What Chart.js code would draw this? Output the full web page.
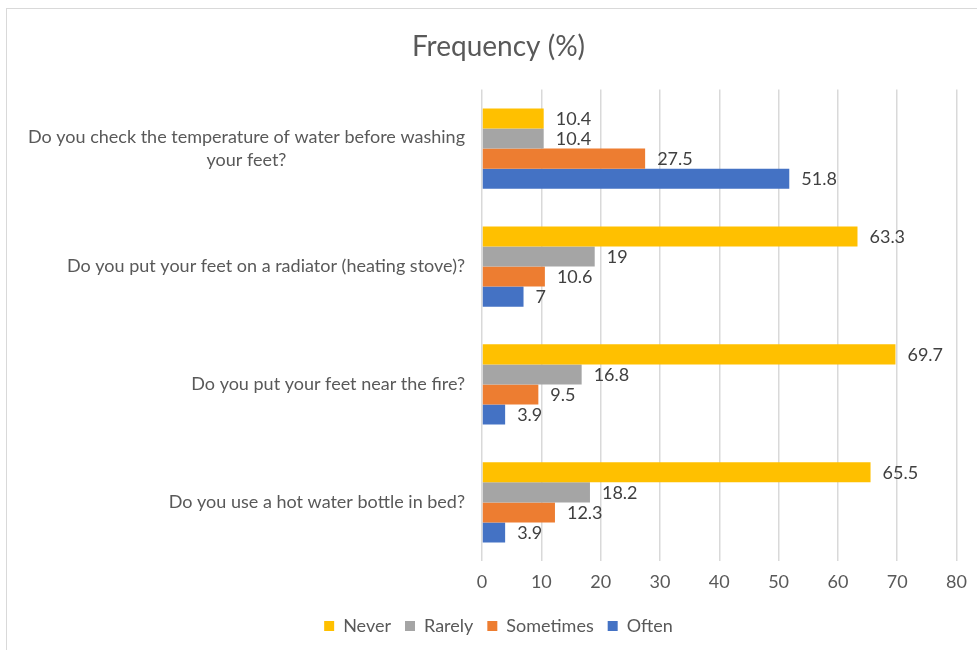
<!DOCTYPE html>
<html lang="en">
<head>
<meta charset="UTF-8">
<title>Frequency (%)</title>
<script src="https://cdn.jsdelivr.net/npm/chart.js@4.4.1/dist/chart.umd.min.js"></script>
<style>
    body { margin: 0; background: #fff; font-family: Lato, sans-serif; }
    .frame {
        position: absolute; left: 6px; top: 8px; width: 975px; height: 645px;
        border: 1px solid #d9d9d9; box-sizing: border-box;
    }
    .wrap { position: absolute; left: 0; top: 0; width: 977px; height: 650px; }
</style>
</head>
<body>
<div class="frame"></div>
<div class="wrap"><canvas id="freqChart"></canvas></div>
<script>
    // questions, top to bottom
    const questions = [
        ['Do you check the temperature of water before washing', 'your feet?'],
        'Do you put your feet on a radiator (heating stove)?',
        'Do you put your feet near the fire?',
        'Do you use a hot water bottle in bed?'
    ];
    const seriesNames = ['Never', 'Rarely', 'Sometimes', 'Often'];
    const never = [10.4, 63.3, 69.7, 65.5];
    const rarely = [10.4, 19, 16.8, 18.2];
    const sometimes = [27.5, 10.6, 9.5, 12.3];
    const often = [51.8, 7, 3.9, 3.9];
    const colors = ['#FFC000', '#A5A5A5', '#ED7D31', '#4472C4'];

    // y labels drawn by hand so the wrapped one is centred like in Excel
    const questionLabels = {
        id: 'questionLabels',
        afterDraw(chart) {
            const ctx = chart.ctx;
            const y = chart.scales.y;
            ctx.save();
            ctx.font = '18px Lato';
            ctx.fillStyle = '#595959';
            ctx.textAlign = 'center';
            ctx.textBaseline = 'middle';
            questions.forEach((q, i) => {
                const lines = Array.isArray(q) ? q : [q];
                const w = Math.max(...lines.map(l => ctx.measureText(l).width));
                const cx = chart.chartArea.left - 17 - w / 2;
                const yc = y.getPixelForTick(i);
                lines.forEach((l, j) => {
                    ctx.fillText(l, cx, yc + (j - (lines.length - 1) / 2) * 23);
                });
            });
            ctx.restore();
        }
    };

    const valueLabels = {
        id: 'valueLabels',
        afterDatasetsDraw(chart) {
            const ctx = chart.ctx;
            ctx.save();
            ctx.font = '18px Lato';
            ctx.fillStyle = '#404040';
            ctx.textAlign = 'left';
            ctx.textBaseline = 'middle';
            chart.data.datasets.forEach((ds, i) => {
                chart.getDatasetMeta(i).data.forEach((bar, j) => {
                    ctx.fillText(String(ds.data[j]), bar.x + 12, bar.y + 1);
                });
            });
            ctx.restore();
        }
    };

    const seriesData = [never, rarely, sometimes, often];

    new Chart(document.getElementById('freqChart'), {
        type: 'bar',
        data: {
            labels: questions,
            datasets: seriesNames.map((name, i) => ({
                label: name,
                data: seriesData[i],
                backgroundColor: colors[i],
                borderWidth: 0,
                categoryPercentage: 0.68,
                barPercentage: 1
            }))
        },
        options: {
            indexAxis: 'y',
            responsive: true,
            maintainAspectRatio: false,
            animation: false,
            layout: { padding: { left: 36, right: 16, top: 0, bottom: 5 } },
            scales: {
                x: {
                    min: 0,
                    max: 80,
                    ticks: { stepSize: 10, color: '#595959', font: { family: 'Lato', size: 18 }, padding: 10 },
                    grid: { color: '#d9d9d9', lineWidth: 1.5, drawTicks: false },
                    border: { display: false }
                },
                y: {
                    ticks: { display: false },
                    grid: { display: false },
                    border: { display: false },
                    afterFit(scale) { scale.width = 446; }
                }
            },
            plugins: {
                title: {
                    display: true,
                    text: 'Frequency (%)',
                    color: '#595959',
                    font: { family: 'Lato', size: 28, weight: 'normal' },
                    padding: { top: 30, bottom: 26 }
                },
                legend: {
                    position: 'bottom',
                    labels: {
                        boxWidth: 10,
                        boxHeight: 10,
                        padding: 14,
                        color: '#595959',
                        font: { family: 'Lato', size: 18 }
                    }
                },
                tooltip: { enabled: false }
            }
        },
        plugins: [questionLabels, valueLabels]
    });
</script>
</body>
</html>
